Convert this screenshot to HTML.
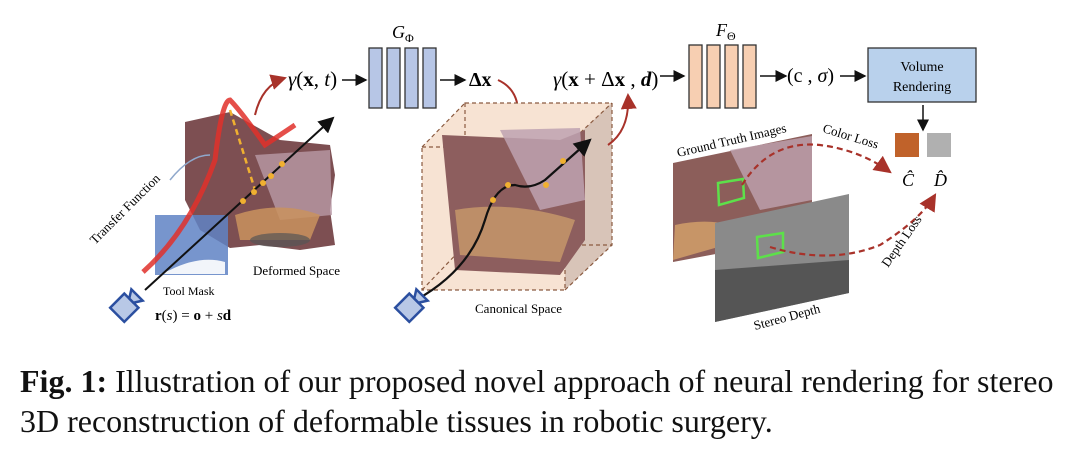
<!DOCTYPE html>
<html><head><meta charset="utf-8"><style>
body{margin:0;background:#fff;width:1080px;height:463px;overflow:hidden}
.cap{position:absolute;left:20px;font-family:"Liberation Serif",serif;font-size:32px;color:#111;white-space:nowrap}
</style></head><body>
<svg width="1080" height="340" style="position:absolute;left:0;top:0" font-family="Liberation Serif, serif">
<defs>
<marker id="ab" markerWidth="8" markerHeight="8" refX="7" refY="4" orient="auto"><path d="M0,0L8,4L0,8z" fill="#111"/></marker>
<marker id="ar" markerWidth="8" markerHeight="8" refX="7" refY="4" orient="auto"><path d="M0,0L8,4L0,8z" fill="#a8322a"/></marker>
</defs>
<path d="M185,122 L230,112 L280,140 L330,145 L335,175 L330,210 L335,245 L300,250 L260,245 L230,248 L200,230 L185,200 Z" fill="#7d4f52"/>
<path d="M255,155 L330,150 L332,215 L280,220 Z" fill="#b99aa6" opacity="0.8"/>
<path d="M235,215 Q280,200 320,215 L310,240 L240,240 Z" fill="#c9925e" opacity="0.85"/>
<ellipse cx="280" cy="240" rx="30" ry="7" fill="#555" opacity="0.7"/>
<rect x="155" y="215" width="73" height="60" fill="#5f83c4" opacity="0.85"/>
<path d="M170,270 Q200,255 225,262 L225,274 L160,274 Z" fill="#fff" opacity="0.9"/>
<path d="M143,272 Q190,230 215,160 Q222,100 230,100 Q240,110 265,145 L295,125" fill="none" stroke="#e0302a" stroke-width="5" opacity="0.85"/>
<line x1="230" y1="110" x2="255" y2="190" stroke="#f0b030" stroke-width="2.5" stroke-dasharray="6,4"/>
<line x1="145" y1="290" x2="333" y2="118" stroke="#111" stroke-width="2" marker-end="url(#ab)"/>
<g fill="#f0b030"><circle cx="243" cy="201" r="3"/><circle cx="254" cy="192" r="3"/><circle cx="263" cy="183" r="3"/><circle cx="271" cy="176" r="3"/><circle cx="282" cy="164" r="3"/></g>
<path d="M255,115 Q262,85 285,78" fill="none" stroke="#a8322a" stroke-width="2" marker-end="url(#ar)"/>
<path d="M170,180 Q190,155 210,155" fill="none" stroke="#8fa8cc" stroke-width="1.5"/>
<text x="0" y="0" font-size="13" transform="translate(95,245) rotate(-45)">Transfer Function</text>
<text x="253" y="275" font-size="13">Deformed Space</text>
<text x="163" y="295" font-size="12">Tool Mask</text>
<text x="155" y="320" font-size="15"><tspan font-weight="bold">r</tspan>(<tspan font-style="italic">s</tspan>) = <tspan font-weight="bold">o</tspan> + <tspan font-style="italic">s</tspan><tspan font-weight="bold">d</tspan></text>
<g transform="translate(125,307) rotate(-45)"><rect x="-11" y="-10" width="20" height="20" fill="#b8c8e6" stroke="#2b4fa0" stroke-width="2.5"/><path d="M9,-3 L17,-8 L17,8 L9,3Z" fill="#b8c8e6" stroke="#2b4fa0" stroke-width="2.5"/></g>
<text x="288" y="86" font-size="21"><tspan font-style="italic">γ</tspan>(<tspan font-weight="bold">x</tspan>, <tspan font-style="italic">t</tspan>)</text>
<line x1="342" y1="80" x2="366" y2="80" stroke="#111" stroke-width="1.5" marker-end="url(#ab)"/>
<g fill="#b7c6e6" stroke="#333" stroke-width="1.3"><rect x="369" y="48" width="13" height="60"/><rect x="387" y="48" width="13" height="60"/><rect x="405" y="48" width="13" height="60"/><rect x="423" y="48" width="13" height="60"/></g>
<text x="392" y="38" font-size="18" font-style="italic">G<tspan font-size="12" dy="4" font-style="normal">Φ</tspan></text>
<line x1="440" y1="80" x2="465" y2="80" stroke="#111" stroke-width="1.5" marker-end="url(#ab)"/>
<text x="469" y="86" font-size="20" font-weight="bold">Δx</text>
<path d="M498,80 Q520,90 518,118" fill="none" stroke="#a8322a" stroke-width="2" marker-end="url(#ar)"/>
<path d="M422,147 L465,103 L612,103 L612,245 L565,290 L422,290 Z" fill="#f7e3d3"/>
<path d="M565,147 L612,103 L612,245 L565,290 Z" fill="#d8c4b8"/>
<g fill="none" stroke="#8a5a40" stroke-width="1.2" stroke-dasharray="4,3">
<rect x="422" y="147" width="143" height="143"/><rect x="465" y="103" width="147" height="142"/>
<line x1="422" y1="147" x2="465" y2="103"/><line x1="565" y1="147" x2="612" y2="103"/><line x1="565" y1="290" x2="612" y2="245"/><line x1="422" y1="290" x2="465" y2="245"/></g>
<path d="M442,135 L560,140 L585,130 L585,240 L560,275 L455,270 Z" fill="#8d5e5e"/>
<path d="M500,130 L580,128 L585,200 L540,210 Z" fill="#bea2b0" opacity="0.85"/>
<path d="M455,210 Q510,200 575,220 L560,262 L460,255 Z" fill="#c99a6a" opacity="0.8"/>
<path d="M416,300 Q470,270 485,220 Q495,185 515,185 Q530,190 545,180 L590,140" fill="none" stroke="#111" stroke-width="2.2" marker-end="url(#ab)"/>
<g fill="#f0b030"><circle cx="493" cy="200" r="3"/><circle cx="508" cy="185" r="3"/><circle cx="563" cy="161" r="3"/><circle cx="546" cy="185" r="3"/></g>
<path d="M608,145 Q630,130 628,95" fill="none" stroke="#a8322a" stroke-width="2" marker-end="url(#ar)"/>
<text x="475" y="313" font-size="13">Canonical Space</text>
<g transform="translate(410,307) rotate(-45)"><rect x="-11" y="-10" width="20" height="20" fill="#b8c8e6" stroke="#2b4fa0" stroke-width="2.5"/><path d="M9,-3 L17,-8 L17,8 L9,3Z" fill="#b8c8e6" stroke="#2b4fa0" stroke-width="2.5"/></g>
<text x="553" y="86" font-size="21"><tspan font-style="italic">γ</tspan>(<tspan font-weight="bold">x</tspan> + Δ<tspan font-weight="bold">x</tspan> , <tspan font-style="italic" font-weight="bold">d</tspan>)</text>
<line x1="660" y1="76" x2="684" y2="76" stroke="#111" stroke-width="1.5" marker-end="url(#ab)"/>
<g fill="#f7cfb2" stroke="#333" stroke-width="1.3"><rect x="689" y="45" width="13" height="63"/><rect x="707" y="45" width="13" height="63"/><rect x="725" y="45" width="13" height="63"/><rect x="743" y="45" width="13" height="63"/></g>
<text x="716" y="36" font-size="18" font-style="italic">F<tspan font-size="12" dy="4" font-style="normal">Θ</tspan></text>
<line x1="760" y1="76" x2="786" y2="76" stroke="#111" stroke-width="1.5" marker-end="url(#ab)"/>
<text x="787" y="82" font-size="20">(c , <tspan font-style="italic">σ</tspan>)</text>
<line x1="840" y1="76" x2="865" y2="76" stroke="#111" stroke-width="1.5" marker-end="url(#ab)"/>
<rect x="868" y="48" width="108" height="54" fill="#b9d1ec" stroke="#333" stroke-width="1.3"/>
<text x="922" y="71" font-size="14" text-anchor="middle">Volume</text>
<text x="922" y="91" font-size="14" text-anchor="middle">Rendering</text>
<line x1="923" y1="105" x2="923" y2="130" stroke="#111" stroke-width="1.5" marker-end="url(#ab)"/>
<rect x="895" y="133" width="24" height="24" fill="#c0622a"/>
<rect x="927" y="133" width="24" height="24" fill="#b0b0b0"/>
<text x="902" y="186" font-size="18" font-style="italic">Ĉ</text>
<text x="934" y="186" font-size="18" font-style="italic">D̂</text>
<path d="M673,163 L812,134 L812,236 L673,262 Z" fill="#8c5e5a"/>
<path d="M730,150 L812,136 L812,200 L760,210 Z" fill="#bfa3b0" opacity="0.8"/>
<path d="M675,225 Q720,215 760,235 L673,260 Z" fill="#d6a36a" opacity="0.8"/>
<path d="M715,223 L849,194 L849,293 L715,322 Z" fill="#8a8a8a"/>
<path d="M715,270 L849,260 L849,293 L715,322 Z" fill="#555"/>
<path d="M718,183 L743,179 L744,198 L719,205 Z" fill="none" stroke="#5de04a" stroke-width="2.5"/>
<path d="M757,237 L783,233 L783,252 L758,258 Z" fill="none" stroke="#5de04a" stroke-width="2.5"/>
<path d="M742,185 Q770,140 820,145 Q860,150 890,172" fill="none" stroke="#a8322a" stroke-width="2.2" stroke-dasharray="6,4" marker-end="url(#ar)"/>
<path d="M770,247 Q830,265 880,245 Q920,220 935,195" fill="none" stroke="#a8322a" stroke-width="2.2" stroke-dasharray="6,4" marker-end="url(#ar)"/>
<text font-size="13" transform="translate(678,157) rotate(-13)">Ground Truth Images</text>
<text font-size="13" transform="translate(822,132) rotate(17)">Color Loss</text>
<text font-size="13" transform="translate(888,268) rotate(-55)">Depth Loss</text>
<text font-size="13" transform="translate(755,330) rotate(-15)">Stereo Depth</text>
</svg>
<div class="cap" style="top:363px"><b>Fig. 1:</b> Illustration of our proposed novel approach of neural rendering for stereo</div>
<div class="cap" style="top:403px">3D reconstruction of deformable tissues in robotic surgery.</div>
</body></html>
